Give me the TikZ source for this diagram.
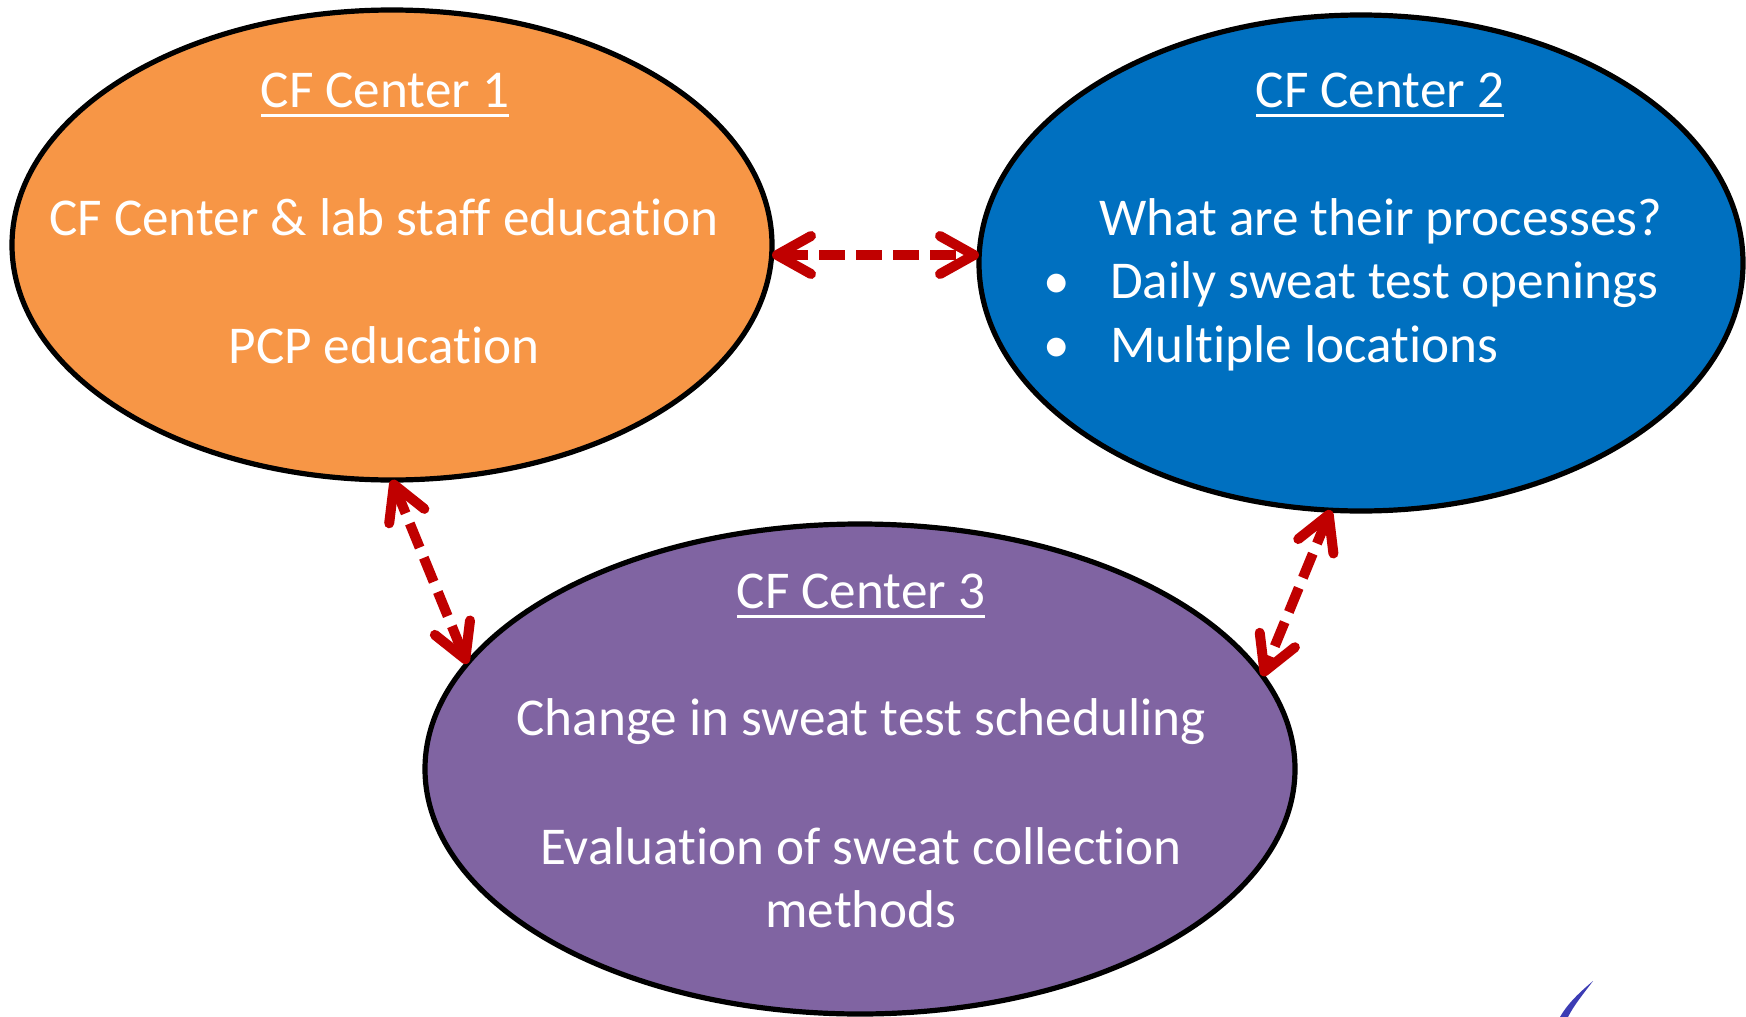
\documentclass[tikz,border=0pt]{standalone}
\usepackage{fontspec}
\setmainfont{Carlito}[Ligatures={NoCommon,NoContextual,NoRare}]
\usetikzlibrary{arrows.meta,shapes.geometric}
\definecolor{cforange}{HTML}{F79646}
\definecolor{cfblue}{HTML}{0070C0}
\definecolor{cfpurple}{HTML}{8064A2}
\definecolor{cfred}{HTML}{C00000}
\definecolor{penblue}{HTML}{3C3CB4}
\begin{document}
\begin{tikzpicture}[x=0.5pt,y=-0.5pt,
  ell/.style={ellipse,draw=black,line width=2.6pt,inner sep=0pt,outer sep=0pt},
  txt/.style={text=white,font=\fontsize{26.6}{32}\selectfont,inner sep=0pt,outer sep=0pt,anchor=base},
  uline/.style={draw=white,line width=1.5pt},
  conn/.style={draw=cfred,line width=5pt,dash pattern=on 13pt off 5.5pt,
    {Straight Barb[length=17pt,width=19pt,round]}-{Straight Barb[length=17pt,width=19pt,round]}}
]
\useasboundingbox[fill=white] (0,0) rectangle (1746,1017);

% ellipses
\node[ell,fill=cforange,minimum width=380pt,minimum height=235pt] (e1) at (392,245) {};
\node[ell,fill=cfblue,minimum width=382pt,minimum height=248pt] (e2) at (1361,263) {};
\node[ell,fill=cfpurple,minimum width=435pt,minimum height=245pt] (e3) at (860,769) {};

% CF Center 1
\node[txt] (t1) at (385,107) {CF Center 1};
\draw[uline] ([yshift=-4pt]t1.base west) -- ([yshift=-4pt]t1.base east);
\node[txt] (a1) at (384,235) {CF Center \& lab staff education};
\node[txt] (a2) at (384,363) {PCP education};

% CF Center 2
\node[txt] (t2) at (1380,107) {CF Center 2};
\draw[uline] ([yshift=-4pt]t2.base west) -- ([yshift=-4pt]t2.base east);
\node[txt,anchor=base west] (b0) at (1099,235) {What are their processes?};
\node[txt] (bb1) at (1057,298) {•};
\node[txt,anchor=base west] (b1) at (1110,298) {Daily sweat test openings};
\node[txt] (bb2) at (1057,362) {•};
\node[txt,anchor=base west] (b2) at (1110,362) {Multiple locations};

% CF Center 3
\node[txt] (t3) at (861,608) {CF Center 3};
\draw[uline] ([yshift=-4pt]t3.base west) -- ([yshift=-4pt]t3.base east);
\node[txt] (c1) at (861,735) {Change in sweat test scheduling};
\node[txt] (c2) at (861,864) {Evaluation of sweat collection};
\node[txt] (c3) at (861,927) {methods};

% connectors
\draw[conn] ([yshift=-5pt]e1.east) -- ([yshift=4pt]e2.west);
\draw[conn] (e1.south) -- (e3.165.6);
\draw[conn] (e2.263.4) -- (e3.13.9);

% pen stroke
\fill[penblue] (1593,981) .. controls (1580,992) and (1568,1003) .. (1560,1017)
  -- (1568,1017) .. controls (1574,1005) and (1584,993) .. (1593,981) -- cycle;
\end{tikzpicture}
\end{document}
